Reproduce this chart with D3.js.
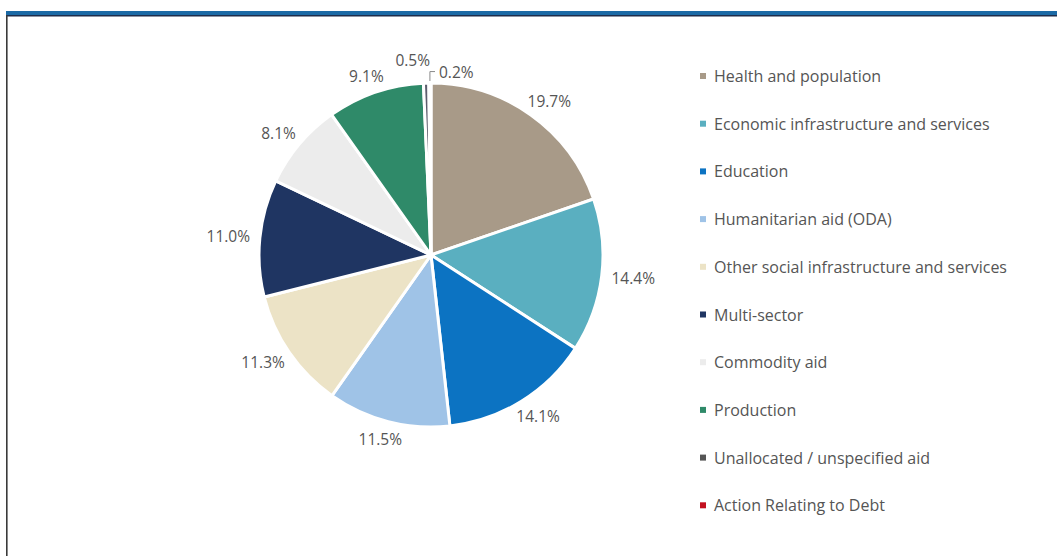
<!DOCTYPE html>
<html>
<head>
<meta charset="utf-8">
<script src="https://cdn.jsdelivr.net/npm/d3@7"></script>
<style>
  html, body { margin: 0; padding: 0; background: #fff; }
  svg { display: block; font-family: "Open Sans", "Noto Sans", sans-serif; }
</style>
</head>
<body>
<svg id="chart" width="1057" height="556"></svg>
<script>
// Share of aid by sector (%), clockwise from 12 o'clock
const categories = [
  "Health and population",
  "Economic infrastructure and services",
  "Education",
  "Humanitarian aid (ODA)",
  "Other social infrastructure and services",
  "Multi-sector",
  "Commodity aid",
  "Production",
  "Unallocated / unspecified aid",
  "Action Relating to Debt"
];
const shares = [19.7, 14.4, 14.1, 11.5, 11.3, 11.0, 8.1, 9.1, 0.5, 0.2];
const colors = [
  "#a89a88", "#5aafc0", "#0c73c2", "#9fc3e7", "#ece3c6",
  "#1f3562", "#ececec", "#2f8a69", "#5d5d6d", "#c3101f"
];
const legendColors = colors.slice();
legendColors[8] = "#555555";

const W = 1057, H = 556;
const svg = d3.select("#chart");

// frame: blue header band and left rule
svg.append("rect").attr("x", 6).attr("y", 11).attr("width", W - 6).attr("height", 4).attr("fill", "#1b6aa6");
svg.append("rect").attr("x", 6).attr("y", 15).attr("width", W - 6).attr("height", 1.5).attr("fill", "#1d2d4c");
svg.append("rect").attr("x", 6).attr("y", 15).attr("width", 1.6).attr("height", H - 15).attr("fill", "#3a3a3a");

const cx = 431, cy = 255, r = 172;
const g = svg.append("g").attr("transform", `translate(${cx},${cy})`);

const pie = d3.pie().sort(null).value(d => d);
const arcs = pie(shares);
const arc = d3.arc().innerRadius(0).outerRadius(r);

g.selectAll("path.slice")
  .data(arcs)
  .join("path")
  .attr("class", "slice")
  .attr("d", arc)
  .attr("fill", (d, i) => colors[i])
  .attr("stroke", "#fff")
  .attr("stroke-width", 3)
  .attr("stroke-linejoin", "round");

// data labels outside the rim
const fmt = d => d.toFixed(1) + "%";
const labelFont = 15.5, gap = 10, lblH = 15;
const labels = g.append("g")
  .attr("font-size", labelFont)
  .attr("fill", "#555");

const placed = [];
arcs.forEach((a, i) => {
  const mid = (a.startAngle + a.endAngle) / 2;
  const s = Math.sin(mid), c = -Math.cos(mid);
  const t = labels.append("text")
    .attr("dominant-baseline", "central")
    .attr("text-anchor", "middle")
    .text(fmt(shares[i]));
  const w = t.node().getComputedTextLength();
  let x = (r + gap) * s + (w / 2) * s;
  let y = (r + gap) * c + (lblH / 2) * c;
  const prev = placed[placed.length - 1];
  if (prev && Math.abs(prev.x - x) < (prev.w + w) / 2 && Math.abs(prev.y - y) < lblH) {
    // collision near the seam: push the earlier label up-left, this one right with a leader
    prev.node.attr("text-anchor", "end").attr("x", -1).attr("y", prev.y - 6);
    const px = r * s, py = r * c;
    const ly = prev.y + 6;
    x = 8;
    y = ly;
    t.attr("text-anchor", "start");
    labels.append("path")
      .attr("d", `M${px},${py - 2}V${ly}H${x - 4}`)
      .attr("fill", "none")
      .attr("stroke", "#8a8a8a")
      .attr("stroke-width", 1);
  }
  t.attr("x", x).attr("y", y);
  placed.push({ x, y, w, node: t });
});

// legend
const legend = svg.append("g").attr("transform", "translate(700,76)");
const rowH = 47.7;
const item = legend.selectAll("g.item")
  .data(categories)
  .join("g")
  .attr("class", "item")
  .attr("transform", (d, i) => `translate(0,${i * rowH})`);
item.append("rect")
  .attr("x", 0).attr("y", -3)
  .attr("width", 6).attr("height", 6)
  .attr("fill", (d, i) => legendColors[i]);
item.append("text")
  .attr("x", 14).attr("y", 0)
  .attr("dominant-baseline", "central")
  .attr("font-size", 16)
  .attr("fill", "#555")
  .text(d => d);
</script>
</body>
</html>
